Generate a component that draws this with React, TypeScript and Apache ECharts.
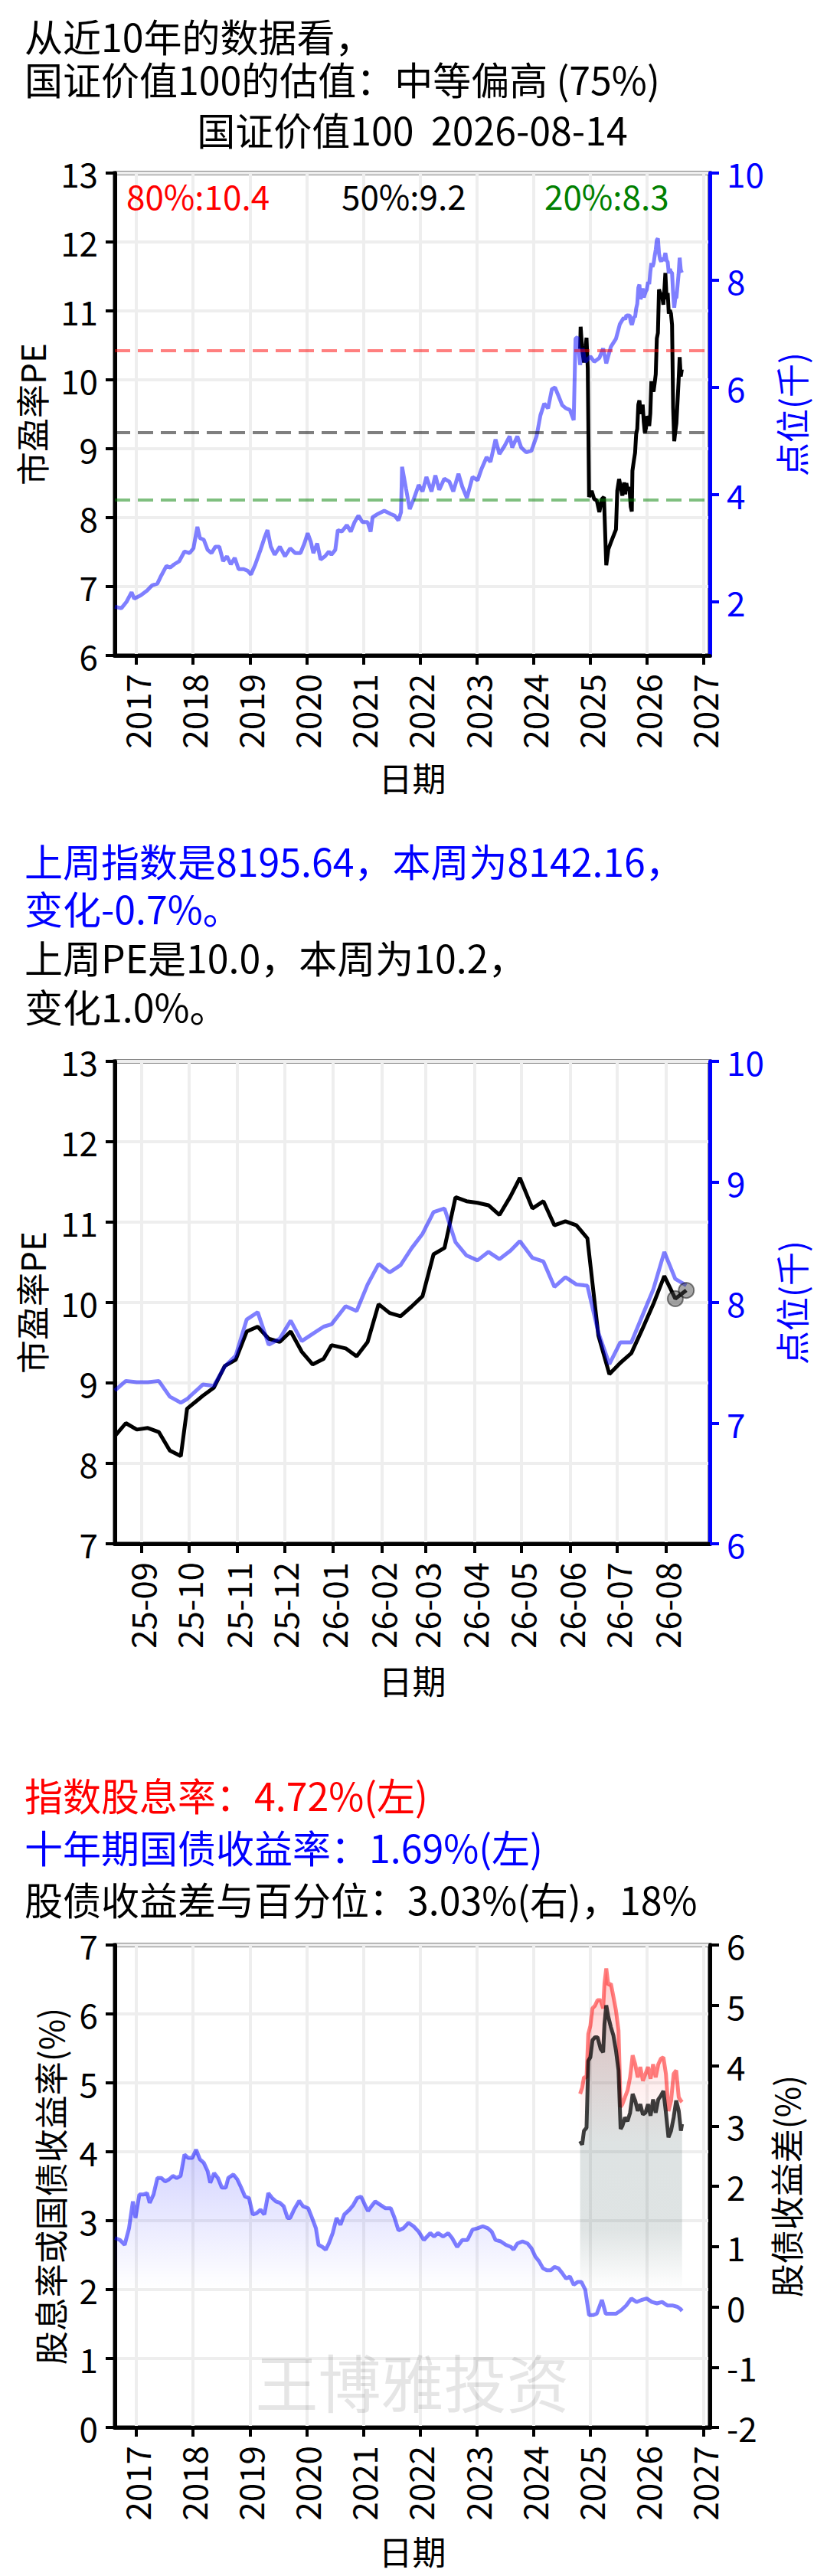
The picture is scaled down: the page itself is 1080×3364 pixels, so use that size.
import React, { useEffect, useRef } from 'react';
import * as echarts from 'echarts';

// ---------------- DATA ----------------
// Chart 1: index level (thousand points), long history before the weekly window
const idxHistYears = [
  2016.620, 2016.734, 2016.825, 2016.915, 2016.961, 2017.075, 2017.188, 2017.279, 2017.370, 2017.438,
  2017.529, 2017.597, 2017.665, 2017.756, 2017.847, 2017.938, 2018.006, 2018.075, 2018.120, 2018.188,
  2018.256, 2018.325, 2018.393, 2018.461, 2018.529, 2018.597, 2018.665, 2018.734, 2018.802, 2018.893,
  2018.961, 2019.020, 2019.097, 2019.188, 2019.256, 2019.311, 2019.370, 2019.438, 2019.529, 2019.620,
  2019.711, 2019.802, 2019.893, 2019.961, 2020.020, 2020.075, 2020.120, 2020.188, 2020.247, 2020.325,
  2020.393, 2020.438, 2020.506, 2020.552, 2020.620, 2020.711, 2020.779, 2020.847, 2020.915, 2020.984,
  2021.075, 2021.129, 2021.165, 2021.256, 2021.370, 2021.484, 2021.552, 2021.620, 2021.665, 2021.684,
  2021.752, 2021.819, 2021.887, 2021.977, 2022.045, 2022.113, 2022.203, 2022.271, 2022.339, 2022.429,
  2022.519, 2022.587, 2022.678, 2022.745, 2022.827, 2022.926, 2023.016, 2023.084, 2023.174, 2023.242,
  2023.332, 2023.400, 2023.491, 2023.581, 2023.626, 2023.716, 2023.784, 2023.874, 2023.965, 2024.055,
  2024.123, 2024.191, 2024.258, 2024.326, 2024.380, 2024.439, 2024.507, 2024.575, 2024.642, 2024.710,
  2024.742, 2024.778, 2024.823, 2024.868, 2024.913, 2025.004, 2025.071, 2025.162, 2025.229, 2025.284,
  2025.365, 2025.455, 2025.523, 2025.591,
];
const idxHistValues = [
  1.91, 1.88, 2.00, 2.18, 2.06, 2.12, 2.21, 2.31, 2.34, 2.49,
  2.67, 2.64, 2.70, 2.76, 2.94, 2.91, 3.00, 3.40, 3.19, 3.16,
  2.97, 2.91, 3.03, 3.03, 2.76, 2.85, 2.70, 2.82, 2.61, 2.61,
  2.58, 2.51, 2.70, 2.97, 3.19, 3.34, 3.03, 2.88, 3.03, 2.85,
  3.00, 2.91, 2.91, 3.09, 3.28, 3.12, 2.91, 3.09, 2.79, 2.85,
  2.94, 2.88, 2.97, 3.34, 3.31, 3.43, 3.31, 3.49, 3.61, 3.49,
  3.49, 3.31, 3.58, 3.64, 3.70, 3.64, 3.61, 3.52, 3.67, 4.52,
  4.12, 3.73, 3.91, 4.18, 4.06, 4.33, 4.06, 4.36, 4.09, 4.30,
  4.24, 4.06, 4.39, 4.15, 3.94, 4.33, 4.27, 4.48, 4.70, 4.61,
  5.03, 4.76, 4.91, 5.09, 4.88, 5.09, 4.88, 4.79, 4.82, 5.09,
  5.48, 5.70, 5.61, 5.97, 6.00, 5.85, 5.67, 5.61, 5.58, 5.39,
  6.91, 6.94, 6.42, 6.73, 6.48, 6.58, 6.48, 6.55, 6.73, 6.45,
  6.76, 6.91, 7.18, 7.30,
];

// Chart 1: PE before the weekly window
const peEarlyYears = [
  2024.823, 2024.832, 2024.859, 2024.891, 2024.936, 2024.958, 2024.981, 2025.026, 2025.071, 2025.117,
  2025.162, 2025.207, 2025.243, 2025.284, 2025.320, 2025.365, 2025.455, 2025.478, 2025.510, 2025.568,
  2025.600,
];
const peEarlyValues = [
  10.45, 10.77, 10.44, 10.25, 10.61, 10.16, 8.30, 8.39, 8.27, 8.25,
  8.08, 8.27, 8.30, 7.31, 7.54, 7.64, 7.83, 8.39, 8.56, 8.32,
  8.51,
];

// Weekly window (chart 2, also last year of chart 1)
const weekDates = [
  '2025-08-15', '2025-08-22', '2025-08-29', '2025-09-05', '2025-09-12', '2025-09-19', '2025-09-26', '2025-09-30',
  '2025-10-10', '2025-10-17', '2025-10-24', '2025-10-31', '2025-11-07', '2025-11-14', '2025-11-21', '2025-11-28',
  '2025-12-05', '2025-12-12', '2025-12-19', '2025-12-26', '2025-12-31', '2026-01-09', '2026-01-16', '2026-01-23',
  '2026-01-30', '2026-02-06', '2026-02-13', '2026-02-20', '2026-02-27', '2026-03-06', '2026-03-13', '2026-03-20',
  '2026-03-27', '2026-04-03', '2026-04-10', '2026-04-17', '2026-04-24', '2026-04-30', '2026-05-08', '2026-05-15',
  '2026-05-22', '2026-05-29', '2026-06-05', '2026-06-12', '2026-06-19', '2026-06-26', '2026-07-03', '2026-07-10',
  '2026-07-17', '2026-07-24', '2026-07-31', '2026-08-07', '2026-08-14',
];
const weekPE = [
  8.34, 8.50, 8.42, 8.44, 8.39, 8.16, 8.09, 8.68, 8.84, 8.94,
  9.21, 9.29, 9.64, 9.70, 9.55, 9.51, 9.64, 9.39, 9.23, 9.30,
  9.47, 9.43, 9.33, 9.51, 9.98, 9.87, 9.83, 9.95, 10.08, 10.60,
  10.68, 11.31, 11.26, 11.24, 11.21, 11.09, 11.32, 11.55, 11.17, 11.26,
  10.96, 11.01, 10.96, 10.80, 9.59, 9.11, 9.25, 9.37, 9.67, 9.98,
  10.33, 10.048, 10.152,
];
const weekIdx = [
  7.27, 7.35, 7.34, 7.34, 7.35, 7.22, 7.17, 7.20, 7.32, 7.31,
  7.47, 7.56, 7.86, 7.92, 7.65, 7.70, 7.85, 7.68, 7.74, 7.80,
  7.82, 7.97, 7.93, 8.15, 8.32, 8.25, 8.31, 8.45, 8.57, 8.75,
  8.78, 8.50, 8.39, 8.35, 8.42, 8.36, 8.43, 8.51, 8.37, 8.34,
  8.13, 8.21, 8.15, 8.14, 7.75, 7.49, 7.67, 7.67, 7.89, 8.11,
  8.42, 8.19564, 8.14216,
];

// PE percentile lines
const pctNames = ['80%', '50%', '20%'];
const pctValues = [10.43, 9.24, 8.26];

// Chart 3: 10y treasury yield (%)
const bondYears = [
  2016.620, 2016.711, 2016.793, 2016.870, 2016.938, 2016.984, 2017.052, 2017.120, 2017.188, 2017.234,
  2017.302, 2017.370, 2017.438, 2017.506, 2017.575, 2017.643, 2017.711, 2017.779, 2017.847, 2017.915,
  2017.984, 2018.052, 2018.120, 2018.188, 2018.256, 2018.302, 2018.370, 2018.438, 2018.506, 2018.575,
  2018.620, 2018.711, 2018.779, 2018.847, 2018.915, 2018.984, 2019.052, 2019.120, 2019.188, 2019.256,
  2019.325, 2019.393, 2019.461, 2019.529, 2019.597, 2019.665, 2019.711, 2019.779, 2019.870, 2019.938,
  2020.029, 2020.097, 2020.165, 2020.211, 2020.279, 2020.338, 2020.393, 2020.461, 2020.529, 2020.597,
  2020.665, 2020.756, 2020.825, 2020.893, 2020.961, 2021.029, 2021.084, 2021.143, 2021.211, 2021.302,
  2021.393, 2021.484, 2021.552, 2021.620, 2021.706, 2021.797, 2021.887, 2021.977, 2022.068, 2022.181,
  2022.248, 2022.316, 2022.407, 2022.497, 2022.565, 2022.655, 2022.745, 2022.836, 2022.926, 2023.016,
  2023.107, 2023.197, 2023.265, 2023.332, 2023.423, 2023.513, 2023.603, 2023.649, 2023.716, 2023.807,
  2023.897, 2023.965, 2024.033, 2024.100, 2024.168, 2024.236, 2024.304, 2024.371, 2024.439, 2024.507,
  2024.575, 2024.642, 2024.710, 2024.778, 2024.846, 2024.913, 2024.981, 2025.049, 2025.117, 2025.207,
  2025.275, 2025.365, 2025.455, 2025.546, 2025.636, 2025.726, 2025.817, 2025.907, 2025.997, 2026.088,
  2026.178, 2026.268, 2026.359, 2026.449, 2026.539, 2026.590, 2026.620,
];
const bondValues = [
  2.75, 2.72, 2.65, 2.89, 3.28, 3.04, 3.38, 3.38, 3.40, 3.26,
  3.38, 3.62, 3.62, 3.57, 3.60, 3.65, 3.62, 3.65, 3.96, 3.91,
  3.91, 4.03, 3.89, 3.84, 3.72, 3.55, 3.69, 3.62, 3.48, 3.48,
  3.62, 3.67, 3.60, 3.48, 3.35, 3.33, 3.09, 3.11, 3.16, 3.09,
  3.40, 3.33, 3.28, 3.26, 3.21, 3.04, 3.04, 3.16, 3.29, 3.21,
  3.18, 3.04, 2.89, 2.65, 2.62, 2.58, 2.67, 2.82, 3.04, 2.94,
  3.09, 3.16, 3.23, 3.33, 3.35, 3.23, 3.14, 3.21, 3.28, 3.23,
  3.18, 3.18, 3.04, 2.86, 2.89, 2.97, 2.92, 2.84, 2.72, 2.82,
  2.77, 2.82, 2.77, 2.82, 2.75, 2.62, 2.72, 2.72, 2.87, 2.89,
  2.92, 2.89, 2.84, 2.72, 2.70, 2.65, 2.62, 2.58, 2.67, 2.70,
  2.67, 2.60, 2.48, 2.41, 2.31, 2.28, 2.28, 2.33, 2.31, 2.24,
  2.16, 2.19, 2.07, 2.11, 2.11, 2.00, 1.63, 1.63, 1.65, 1.85,
  1.65, 1.65, 1.65, 1.70, 1.77, 1.87, 1.82, 1.85, 1.87, 1.82,
  1.80, 1.82, 1.77, 1.77, 1.75, 1.72, 1.69,
];

// Chart 3: dividend yield (%) and equity-bond spread (%)
const divYears = [
  2024.823, 2024.859, 2024.891, 2024.936, 2024.967, 2025.004, 2025.040, 2025.085, 2025.130, 2025.184,
  2025.229, 2025.252, 2025.284, 2025.320, 2025.365, 2025.410, 2025.455, 2025.500, 2025.537, 2025.568,
  2025.613, 2025.659, 2025.704, 2025.749, 2025.794, 2025.839, 2025.884, 2025.930, 2025.975, 2026.020,
  2026.065, 2026.110, 2026.155, 2026.201, 2026.246, 2026.291, 2026.336, 2026.381, 2026.426, 2026.472,
  2026.517, 2026.562, 2026.600, 2026.620,
];
const divValues = [
  4.84, 4.93, 5.08, 5.08, 5.71, 5.83, 6.08, 6.12, 6.20, 6.20,
  6.08, 6.44, 6.66, 6.42, 6.44, 6.25, 6.05, 5.76, 4.65, 4.69,
  4.79, 4.89, 5.08, 5.40, 5.27, 5.08, 5.23, 5.03, 5.13, 5.23,
  5.06, 5.27, 5.08, 5.27, 5.35, 5.37, 5.13, 4.59, 4.74, 5.13,
  5.18, 4.79, 4.74, 4.72,
];
const spreadValues = [
  2.75, 2.69, 2.92, 2.97, 4.08, 4.14, 4.42, 4.47, 4.47, 4.28,
  4.22, 4.69, 5.00, 4.81, 4.64, 4.50, 4.25, 3.92, 2.95, 3.00,
  3.14, 3.08, 3.22, 3.53, 3.42, 3.25, 3.36, 3.19, 3.22, 3.36,
  3.17, 3.44, 3.22, 3.44, 3.50, 3.58, 3.22, 2.81, 2.92, 3.14,
  3.42, 3.25, 2.92, 3.03,
];

// Axis ticks
const yearTicks = [2017, 2018, 2019, 2020, 2021, 2022, 2023, 2024, 2025, 2026, 2027];
const monthTickDates = [
  '2025-09-01', '2025-10-01', '2025-11-01', '2025-12-01', '2026-01-01', '2026-02-01',
  '2026-03-01', '2026-04-01', '2026-05-01', '2026-06-01', '2026-07-01', '2026-08-01',
];
const monthTickLabels = ['25-09', '25-10', '25-11', '25-12', '26-01', '26-02', '26-03', '26-04', '26-05', '26-06', '26-07', '26-08'];
const idxRightTicks = [2, 4, 6, 8, 10];

// ---------------- HELPERS ----------------
const FONT = '"Noto Sans CJK SC", "Noto Sans", sans-serif';
const GRID_C = '#eeeeee';
const BLUE = '#0000ff';
const RED = '#ff0000';
const GREEN = '#008000';

function toYear(s: string): number {
  const [y, m, d] = s.split('-').map(Number);
  const start = Date.UTC(y, 0, 1);
  const t = Date.UTC(y, m - 1, d);
  const leap = (y % 4 === 0 && y % 100 !== 0) || y % 400 === 0;
  return y + (t - start) / 86400000 / (leap ? 366 : 365);
}

const zip = (xs: number[], ys: number[]) => xs.map((x, i) => [x, ys[i]]);

const LEFT = 150;
const W = 777;
const H = 630;
const TOPS = [226, 1386, 2540];

function txt(text: string, x: number, y: number, size: number, color: string, align = 'left', rot = 0, z = 100) {
  return {
    type: 'text',
    x,
    y,
    rotation: rot,
    z,
    silent: true,
    style: { text, fill: color, fontSize: size, fontFamily: FONT, textAlign: align, textVerticalAlign: 'middle' },
  };
}

function buildOption() {
  const weekX = weekDates.map(toYear);
  const monthVals = monthTickDates.map(toYear);
  const X1_MIN = toYear('2016-08-15');
  const X1_MAX = 2027.11;
  const X2_MIN = toYear('2025-08-15');
  const X2_MAX = toYear('2026-08-29');

  const peAll = zip(peEarlyYears, peEarlyValues).concat(zip(weekX, weekPE));
  const idxAll = zip(idxHistYears, idxHistValues).concat(zip(weekX, weekIdx));

  const xBase = (gi: number, min: number, max: number, ticks: number[], fmt: (v: number) => string) => ({
    type: 'value',
    gridIndex: gi,
    min,
    max,
    axisLine: { show: true, onZero: false, lineStyle: { color: '#000', width: 5 } },
    axisTick: { show: true, customValues: ticks, length: 12, lineStyle: { color: '#000', width: 4 } },
    axisLabel: {
      show: true,
      customValues: ticks,
      rotate: 90,
      margin: 24,
      fontSize: 44,
      color: '#000',
      fontFamily: FONT,
      formatter: fmt,
    },
    splitLine: { show: true, lineStyle: { color: GRID_C, width: 4 } },
  });

  const yBase = (gi: number, pos: string, min: number, max: number, color: string, custom?: number[]) => {
    const a: any = {
      type: 'value',
      gridIndex: gi,
      position: pos,
      min,
      max,
      axisLine: { show: true, onZero: false, lineStyle: { color, width: 5 } },
      axisTick: { show: true, length: 12, lineStyle: { color, width: 4 } },
      axisLabel: { show: true, color, fontSize: 44, fontFamily: FONT, margin: 22 },
      splitLine: { show: pos === 'left', lineStyle: { color: GRID_C, width: 4 } },
    };
    if (custom) {
      a.axisTick.customValues = custom;
      a.axisLabel.customValues = custom;
    } else {
      a.interval = 1;
    }
    return a;
  };

  const yearFmt = (v: number) => String(Math.round(v));
  const monthFmt = (v: number) => {
    const i = monthVals.findIndex((t) => Math.abs(t - v) < 1e-4);
    return i >= 0 ? monthTickLabels[i] : '';
  };

  const grids = TOPS.map((t) => ({
    left: LEFT,
    top: t,
    width: W,
    height: H,
    show: true,
    borderColor: '#000',
    borderWidth: 5,
    backgroundColor: 'transparent',
    containLabel: false,
    outerBoundsMode: 'none',
  }));

  const lineCommon = { type: 'line', showSymbol: false, symbol: 'none', silent: true, animation: false };

  const series: any[] = [
    // Chart 1
    {
      ...lineCommon,
      name: 'PE',
      xAxisIndex: 0,
      yAxisIndex: 0,
      data: peAll,
      lineStyle: { color: '#000', width: 5 },
      z: 3,
      markLine: {
        silent: true,
        symbol: 'none',
        label: { show: false },
        animation: false,
        data: pctValues.map((v, i) => ({
          yAxis: v,
          lineStyle: {
            color: ['rgba(255,0,0,0.5)', 'rgba(0,0,0,0.5)', 'rgba(0,128,0,0.5)'][i],
            width: 4,
            type: [20, 10],
          },
        })),
      },
    },
    {
      ...lineCommon,
      name: 'idx',
      xAxisIndex: 0,
      yAxisIndex: 1,
      data: idxAll,
      lineStyle: { color: 'rgba(0,0,255,0.5)', width: 5 },
      z: 4,
    },
    // Chart 2
    {
      ...lineCommon,
      name: 'PE2',
      xAxisIndex: 1,
      yAxisIndex: 2,
      data: zip(weekX, weekPE),
      lineStyle: { color: '#000', width: 5 },
      z: 3,
    },
    {
      ...lineCommon,
      name: 'idx2',
      xAxisIndex: 1,
      yAxisIndex: 3,
      data: zip(weekX, weekIdx),
      lineStyle: { color: 'rgba(0,0,255,0.5)', width: 5 },
      z: 4,
    },
    {
      type: 'scatter',
      xAxisIndex: 1,
      yAxisIndex: 2,
      silent: true,
      symbolSize: 20,
      data: zip(weekX, weekPE).slice(-2),
      itemStyle: { color: 'rgba(70,70,70,0.6)', borderColor: 'rgba(0,0,0,0.6)', borderWidth: 2 },
      z: 6,
    },
    // Chart 3
    {
      ...lineCommon,
      name: 'bond',
      xAxisIndex: 2,
      yAxisIndex: 4,
      data: zip(bondYears, bondValues),
      lineStyle: { color: 'rgba(0,0,255,0.5)', width: 5 },
      areaStyle: {
        origin: 'start',
        color: new echarts.graphic.LinearGradient(0, 0, 0, 1, [
          { offset: 0, color: 'rgba(0,0,255,0.25)' },
          { offset: 0.5, color: 'rgba(0,0,255,0)' },
          { offset: 1, color: 'rgba(0,0,255,0)' },
        ]),
      },
      z: 2,
    },
    {
      ...lineCommon,
      name: 'div',
      xAxisIndex: 2,
      yAxisIndex: 4,
      data: zip(divYears, divValues),
      lineStyle: { color: 'rgba(255,0,0,0.5)', width: 5 },
      areaStyle: {
        origin: 'start',
        color: new echarts.graphic.LinearGradient(0, 0, 0, 1, [
          { offset: 0, color: 'rgba(255,0,0,0.28)' },
          { offset: 0.38, color: 'rgba(255,0,0,0)' },
          { offset: 1, color: 'rgba(255,0,0,0)' },
        ]),
      },
      z: 3,
    },
    {
      ...lineCommon,
      name: 'spread',
      xAxisIndex: 2,
      yAxisIndex: 5,
      data: zip(divYears, spreadValues),
      lineStyle: { color: 'rgba(0,0,0,0.75)', width: 5 },
      areaStyle: {
        origin: 'start',
        color: new echarts.graphic.LinearGradient(0, 0, 0, 1, [
          { offset: 0, color: 'rgba(47,79,79,0.24)' },
          { offset: 0.53, color: 'rgba(47,79,79,0.22)' },
          { offset: 0.67, color: 'rgba(47,79,79,0)' },
          { offset: 1, color: 'rgba(47,79,79,0)' },
        ]),
      },
      z: 4,
    },
  ];

  const mid = (t: number) => t + H / 2;
  const graphic: any[] = [
    // Chart 1 texts
    txt('从近10年的数据看，', 32, 46, 50, '#000'),
    txt('国证价值100的估值：中等偏高 (75%)', 32, 102, 50, '#000'),
    txt('国证价值100  2026-08-14', LEFT + W / 2, 168, 50, '#000', 'center'),
    txt(`${pctNames[0]}:${pctValues[0].toFixed(1)}`, 165, 255, 44, RED),
    txt(`${pctNames[1]}:${pctValues[1].toFixed(1)}`, 446, 255, 44, '#000'),
    txt(`${pctNames[2]}:${pctValues[2].toFixed(1)}`, 711, 255, 44, GREEN),
    txt('市盈率PE', 41, mid(TOPS[0]), 44, '#000', 'center', Math.PI / 2),
    txt('点位(千)', 1033, mid(TOPS[0]), 44, BLUE, 'center', Math.PI / 2),
    txt('日期', LEFT + W / 2, 1015, 44, '#000', 'center'),
    // Chart 2 texts
    txt('上周指数是8195.64，本周为8142.16，', 32, 1123, 50, BLUE),
    txt('变化-0.7%。', 32, 1185, 50, BLUE),
    txt('上周PE是10.0，本周为10.2，', 32, 1249, 50, '#000'),
    txt('变化1.0%。', 32, 1313, 50, '#000'),
    txt('市盈率PE', 41, mid(TOPS[1]), 44, '#000', 'center', Math.PI / 2),
    txt('点位(千)', 1033, mid(TOPS[1]), 44, BLUE, 'center', Math.PI / 2),
    txt('日期', LEFT + W / 2, 2194, 44, '#000', 'center'),
    // Chart 3 texts
    txt('指数股息率：4.72%(左)', 32, 2343, 50, RED),
    txt('十年期国债收益率：1.69%(左)', 32, 2411, 50, BLUE),
    txt('股债收益差与百分位：3.03%(右)，18%', 32, 2479, 50, '#000'),
    txt('股息率或国债收益率(%)', 65, mid(TOPS[2]), 44, '#000', 'center', Math.PI / 2),
    txt('股债收益差(%)', 1026, mid(TOPS[2]), 44, '#000', 'center', Math.PI / 2),
    txt('日期', LEFT + W / 2, 3331, 44, '#000', 'center'),
    txt('王博雅投资', LEFT + W / 2, 3108, 82, 'rgba(0,0,0,0.1)', 'center'),
  ];

  return {
    animation: false,
    backgroundColor: '#ffffff',
    textStyle: { fontFamily: FONT },
    grid: grids,
    xAxis: [
      xBase(0, X1_MIN, X1_MAX, yearTicks, yearFmt),
      xBase(1, X2_MIN, X2_MAX, monthVals, monthFmt),
      xBase(2, X1_MIN, X1_MAX, yearTicks, yearFmt),
    ],
    yAxis: [
      yBase(0, 'left', 6, 13, '#000'),
      yBase(0, 'right', 1, 10, BLUE, idxRightTicks),
      yBase(1, 'left', 7, 13, '#000'),
      yBase(1, 'right', 6, 10, BLUE),
      yBase(2, 'left', 0, 7, '#000'),
      yBase(2, 'right', -2, 6, '#000'),
    ],
    series,
    graphic,
  };
}

export default function App() {
  const ref = useRef<HTMLDivElement>(null);
  useEffect(() => {
    document.body.style.margin = '0';
    if (!ref.current) return;
    const chart = echarts.init(ref.current, null, { renderer: 'svg' });
    chart.setOption(buildOption() as any);
    return () => {
      chart.dispose();
    };
  }, []);
  return <div ref={ref} style={{ width: 1080, height: 3364 }} />;
}
